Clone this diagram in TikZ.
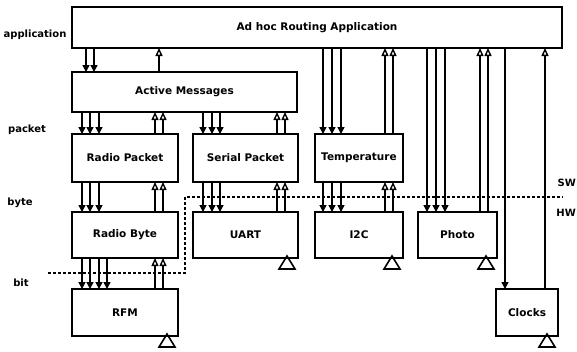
\documentclass[tikz,border=0pt]{standalone}
\usepackage{fontspec}
\setmainfont{DejaVu Sans}
\usetikzlibrary{arrows.meta,positioning}

\begin{document}
\begin{tikzpicture}[
    x=1pt, y=-1pt,
    box/.style={draw, line width=2pt, inner sep=0pt, outer sep=0pt, align=center, font=\fontsize{10.5}{12}\selectfont\bfseries},
    lbl/.style={font=\fontsize{10}{12}\selectfont\bfseries},
    dn/.style={line width=1.4pt, -{Triangle[length=7pt, width=7pt]}},
    up/.style={line width=1.4pt, -{Triangle[open, length=8pt, width=7pt]}},
    gnd/.style={line width=1.6pt},
    swhw/.style={line width=1.8pt, dash pattern=on 3pt off 2pt}
]
    \useasboundingbox (0,0) rectangle (577,351);
    % software layers
    \node[box, minimum width=490pt, minimum height=41pt] (app) at (317,27.5) {Ad hoc Routing Application};
    \node[box, minimum width=225pt, minimum height=40pt, below=24pt of app.south west, anchor=north west] (am) {Active Messages};
    \node[box, minimum width=106pt, minimum height=48pt, below=22pt of am.south west, anchor=north west] (rpkt) {Radio Packet};
    \node[box, minimum width=105pt, minimum height=48pt, right=15pt of rpkt] (spkt) {Serial Packet};
    \node[box, minimum width=88pt, minimum height=48pt, right=17pt of spkt] (temp) {Temperature};
    \node[box, minimum width=106pt, minimum height=46pt, below=30pt of rpkt] (rbyte) {Radio Byte};
    % hardware
    \node[box, minimum width=105pt, minimum height=46pt, right=15pt of rbyte] (uart) {UART};
    \node[box, minimum width=88pt, minimum height=46pt, right=17pt of uart] (i2c) {I2C};
    \node[box, minimum width=79pt, minimum height=46pt, right=15pt of i2c] (photo) {Photo};
    \node[box, minimum width=106pt, minimum height=47pt, below=31pt of rbyte] (rfm) {RFM};
    \node[box, minimum width=62pt, minimum height=47pt, right=318pt of rfm] (clocks) {Clocks};
    % levels
    \node[lbl] (lapp) at (35,35) {application};
    \node[lbl] (lpkt) at (27,130) {packet};
    \node[lbl] (lbyte) at (20,203) {byte};
    \node[lbl] (lbit) at (21,283) {bit};
    \node[lbl, anchor=east, inner sep=1pt] (lsw) at (577,183) {SW};
    \node[lbl, anchor=east, inner sep=1pt] (lhw) at (577,213) {HW};
    % commands down, events up
    \foreach \a/\b/\dl/\ul in {app/am/{14,22}/{87}, am/rpkt/{10,18,27}/{83,91}, am/spkt/{10,19,27}/{84,92},
        app/temp/{8,17,26}/{70,78}, rpkt/rbyte/{10,18,27}/{83,91}, spkt/uart/{10,19,27}/{84,92},
        temp/i2c/{8,17,26}/{70,78}, rbyte/rfm/{10,18,27,35}/{83,91}, app/photo/{9,18,27}/{62,70},
        app/clocks/{9}/{49}} {
        \foreach \x in \dl
            \draw[dn] ([xshift=\x pt]\b.north west |- \a.south) -- ([xshift=\x pt]\b.north west);
        \foreach \x in \ul
            \draw[up] ([xshift=\x pt]\b.north west) -- ([xshift=\x pt]\b.north west |- \a.south);
    }
    \foreach \n in {rfm,uart,i2c,photo,clocks}
        \draw[gnd] ([xshift=-11pt, yshift=2pt]\n.south east) -- ++(-8,13) -- ++(16,0) -- cycle;
    \draw[swhw] (48,273) -- (185,273) -- (185,197) -- (563,197);
\end{tikzpicture}
\end{document}
